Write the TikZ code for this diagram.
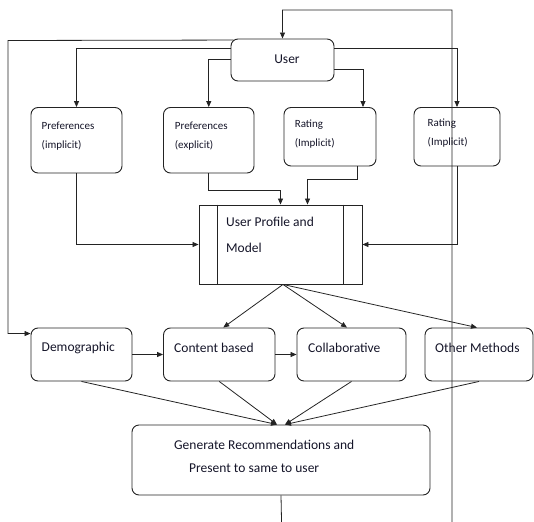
\documentclass[tikz,border=0pt]{standalone}
\usepackage{fontspec}
\setmainfont{Carlito}
\usetikzlibrary{arrows.meta,calc}
\definecolor{ink}{RGB}{35,35,35}
\definecolor{txt}{RGB}{20,20,40}
\begin{document}
\begin{tikzpicture}[x=1pt,y=-1pt,
  box/.style={draw=ink, rounded corners=7pt, line width=0.9pt, inner sep=0pt},
  sqbox/.style={draw=ink, line width=0.9pt, inner sep=0pt},
  arr/.style={draw=ink, -{Triangle[length=6pt,width=5pt]}, line width=0.8pt},
  ln/.style={draw=ink, line width=0.8pt},
  big/.style={text=txt, font=\fontsize{13.5}{26}\selectfont, inner sep=0pt, align=left},
  small/.style={text=txt, font=\fontsize{11}{19}\selectfont, inner sep=0pt, align=left},
]
\useasboundingbox (0,0) rectangle (534,521);
\clip (0,0) rectangle (534,521);

% top node
\node[box, minimum width=103pt, minimum height=42pt] (user) at (282.5,60) {};
\node[big] (usert) at (287,59) {User};

% second row
\node[box, minimum width=91pt, minimum height=65.5pt] (pi) at (76.5,140.25) {};
\node[small, anchor=west] (pit) at (41.5,136.25) {Preferences\\(implicit)};
\node[box, minimum width=90.5pt, minimum height=65.5pt] (pe) at (208.75,140.25) {};
\node[small, anchor=west] (pet) at (174.7,136.25) {Preferences\\(explicit)};
\node[box, minimum width=92pt, minimum height=58.5pt] (ra) at (330,136.75) {};
\node[small, anchor=west] (rat) at (294.6,134.5) {Rating\\(Implicit)};
\node[box, minimum width=86pt, minimum height=58.5pt] (r2) at (457,136.75) {};
\node[small, anchor=west] (r2t) at (427.5,133.5) {Rating\\(Implicit)};

% profile
\node[sqbox, minimum width=163pt, minimum height=79pt] (prof) at (280.5,244.5) {};
\draw[ln] ([xshift=19pt]prof.north west) -- ([xshift=19pt]prof.south west);
\draw[ln] ([xshift=-19pt]prof.north east) -- ([xshift=-19pt]prof.south east);
\node[big, anchor=west] (proft) at (226,235) {User Profile and\\Model};

% third row
\node[box, minimum width=101pt, minimum height=53pt] (dem) at (81.5,354.5) {};
\node[big, anchor=west] (demt) at (41.5,348) {Demographic};
\node[box, minimum width=111.5pt, minimum height=53pt] (cb) at (219.25,354.5) {};
\node[big, anchor=west] (cbt) at (174,348) {Content based};
\node[box, minimum width=109pt, minimum height=53pt] (co) at (351.5,354.5) {};
\node[big, anchor=west] (cot) at (308,348) {Collaborative};
\node[box, minimum width=108pt, minimum height=53pt] (om) at (479,354.5) {};
\node[big, anchor=west] (omt) at (435,348) {Other Methods};

% generate
\node[box, minimum width=298pt, minimum height=70pt] (gen) at (281,460) {};
\node[text=txt, font=\fontsize{13.5}{23}\selectfont, inner sep=0pt, align=left, anchor=west] (gent) at (174,456.5)
  {Generate Recommendations and\\\hspace*{15pt}Present to same to user};

% connectors from user
\draw[arr] ([xshift=3pt,yshift=-1.5pt]user.north west) -- (8,40.5) |- ([yshift=-6pt]dem.north west);
\draw[arr] ([yshift=-10pt]user.north west) -| (pi.north);
\draw[arr] ([yshift=-21pt]user.north west) -| (pe.north);
\draw[arr] ([yshift=-31pt]user.north east) -| ([xshift=33pt]ra.north);
\draw[arr] ([yshift=-10pt]user.north east) -| (r2.north);

% into profile
\draw[arr] (pi.south) |- (prof.west);
\draw[arr] (pe.south) -- ++(0,17) -| (prof.north);
\draw[arr] ([xshift=27pt]ra.south) -- ++(0,13) -| ([xshift=27pt]prof.north);
\draw[arr] (r2.south) |- (prof.east);

% out of profile
\draw[arr] ([xshift=2.5pt]prof.south) -- ([xshift=4pt]cb.north);
\draw[arr] ([xshift=2.5pt]prof.south) -- ([xshift=-4.5pt]co.north);
\draw[arr] ([xshift=2.5pt]prof.south) -- ([xshift=-2pt]om.north);

\draw[arr] (dem.east) -- (cb.west);
\draw[arr] (cb.east) -- (co.west);

% into generate
\draw[arr] (dem.south) -- ([xshift=-4pt]gen.north);
\draw[arr] (cb.south) -- ([xshift=-4pt]gen.north);
\draw[arr] (co.south) -- ([xshift=4pt]gen.north);
\draw[arr] (om.south) -- ([xshift=4pt]gen.north);

% feedback loop
\coordinate (loopL) at (282,545);
\coordinate (loopR) at (452,545);
\coordinate (loopT) at (452,10);
\draw[arr] (gen.south) -- (loopL) -- (loopR) -- (loopT) -| (user.north);
\end{tikzpicture}
\end{document}
